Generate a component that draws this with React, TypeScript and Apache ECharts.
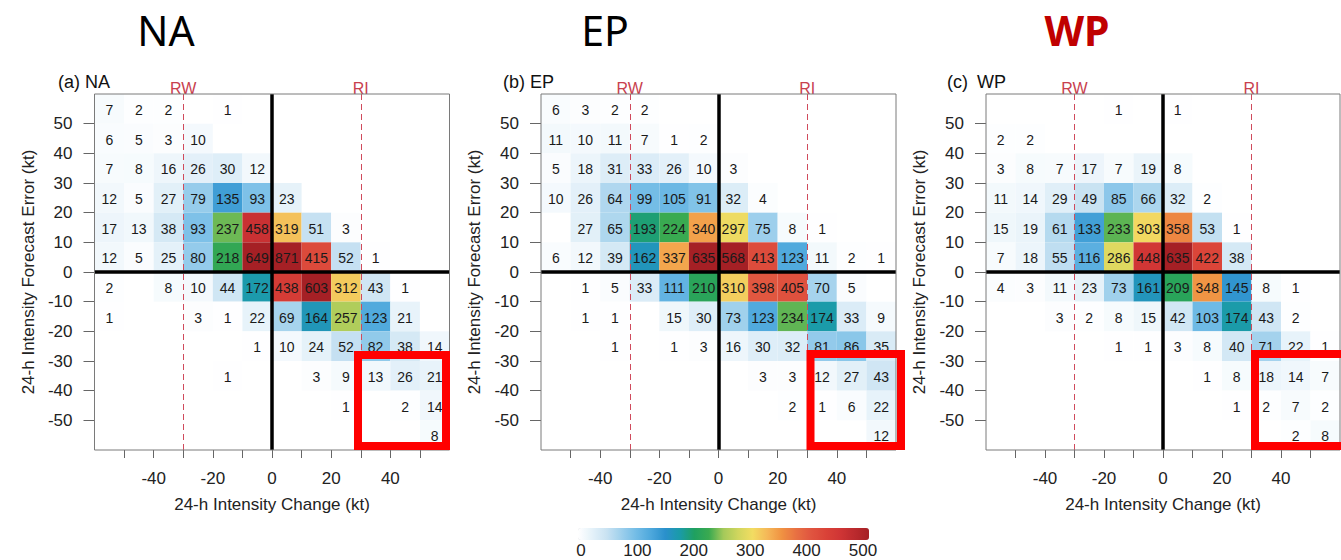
import React, { useEffect, useRef } from "react";
import * as echarts from "echarts";

// Bin centres (kt): intensity change (x) and forecast error (y), 10-kt bins
const binWidth = 10;
const changeBins = [-55, -45, -35, -25, -15, -5, 5, 15, 25, 35, 45, 55];
const errorBins = [55, 45, 35, 25, 15, 5, -5, -15, -25, -35, -45, -55];

// Tick labels
const xTickValues = [-50, -40, -30, -20, -10, 0, 10, 20, 30, 40, 50];
const xTickLabels = [-40, -20, 0, 20, 40];
const yTickValues = [-50, -40, -30, -20, -10, 0, 10, 20, 30, 40, 50];
const colorbarTicks = [0, 100, 200, 300, 400, 500];

// Rapid weakening / rapid intensification thresholds (kt)
const rwThreshold = -30;
const riThreshold = 30;

// Counts per bin, rows from +55 down to -55 kt error, columns from -55 to +55 kt change (0 = no cases)
const naCounts = [
  [7, 2, 2, 0, 1, 0, 0, 0, 0, 0, 0, 0],
  [6, 5, 3, 10, 0, 0, 0, 0, 0, 0, 0, 0],
  [7, 8, 16, 26, 30, 12, 0, 0, 0, 0, 0, 0],
  [12, 5, 27, 79, 135, 93, 23, 0, 0, 0, 0, 0],
  [17, 13, 38, 93, 237, 458, 319, 51, 3, 0, 0, 0],
  [12, 5, 25, 80, 218, 649, 871, 415, 52, 1, 0, 0],
  [2, 0, 8, 10, 44, 172, 438, 603, 312, 43, 1, 0],
  [1, 0, 0, 3, 1, 22, 69, 164, 257, 123, 21, 0],
  [0, 0, 0, 0, 0, 1, 10, 24, 52, 82, 38, 14],
  [0, 0, 0, 0, 1, 0, 0, 3, 9, 13, 26, 21],
  [0, 0, 0, 0, 0, 0, 0, 0, 1, 0, 2, 14],
  [0, 0, 0, 0, 0, 0, 0, 0, 0, 0, 0, 8],
];

const epCounts = [
  [6, 3, 2, 2, 0, 0, 0, 0, 0, 0, 0, 0],
  [11, 10, 11, 7, 1, 2, 0, 0, 0, 0, 0, 0],
  [5, 18, 31, 33, 26, 10, 3, 0, 0, 0, 0, 0],
  [10, 26, 64, 99, 105, 91, 32, 4, 0, 0, 0, 0],
  [0, 27, 65, 193, 224, 340, 297, 75, 8, 1, 0, 0],
  [6, 12, 39, 162, 337, 635, 568, 413, 123, 11, 2, 1],
  [0, 1, 5, 33, 111, 210, 310, 398, 405, 70, 5, 0],
  [0, 1, 1, 0, 15, 30, 73, 123, 234, 174, 33, 9],
  [0, 0, 1, 0, 1, 3, 16, 30, 32, 81, 86, 35],
  [0, 0, 0, 0, 0, 0, 0, 3, 3, 12, 27, 43],
  [0, 0, 0, 0, 0, 0, 0, 0, 2, 1, 6, 22],
  [0, 0, 0, 0, 0, 0, 0, 0, 0, 0, 0, 12],
];

const wpCounts = [
  [0, 0, 0, 0, 1, 0, 1, 0, 0, 0, 0, 0],
  [2, 2, 0, 0, 0, 0, 0, 0, 0, 0, 0, 0],
  [3, 8, 7, 17, 7, 19, 8, 0, 0, 0, 0, 0],
  [11, 14, 29, 49, 85, 66, 32, 2, 0, 0, 0, 0],
  [15, 19, 61, 133, 233, 303, 358, 53, 1, 0, 0, 0],
  [7, 18, 55, 116, 286, 448, 635, 422, 38, 0, 0, 0],
  [4, 3, 11, 23, 73, 161, 209, 348, 145, 8, 1, 0],
  [0, 0, 3, 2, 8, 15, 42, 103, 174, 43, 2, 0],
  [0, 0, 0, 0, 1, 1, 3, 8, 40, 71, 22, 1],
  [0, 0, 0, 0, 0, 0, 0, 1, 8, 18, 14, 7],
  [0, 0, 0, 0, 0, 0, 0, 0, 1, 2, 7, 2],
  [0, 0, 0, 0, 0, 0, 0, 0, 0, 0, 2, 8],
];

const basinNames = ["NA", "EP", "WP"];
const panelTags = ["(a) NA", "(b) EP", "(c)\u2002WP"];

// Colour scale for counts 0..500 (evenly spaced stops)
const countColors = [
  "#ffffff", "#e4f1f9", "#c8e2f2", "#9dcfec", "#72bce6", "#4ea8dc",
  "#2a90cc", "#1a9ba8", "#1fa060", "#3aaa50", "#a4c95a", "#d0d65e",
  "#f2dc62", "#f5b858", "#f09242", "#e87042", "#e05540", "#da4338",
  "#d03535", "#bb2a2e", "#a52025",
];

const FONT = "'Liberation Sans', Arial, sans-serif";
const TITLE_FONT = "'Noto Sans', 'Open Sans', sans-serif";
const THRESHOLD_COLOR = "#d04a5c";

function toCells(counts: number[][]) {
  const cells: number[][] = [];
  counts.forEach((row, r) => {
    row.forEach((v, c) => {
      if (v > 0) cells.push([changeBins[c], errorBins[r], v]);
    });
  });
  return cells;
}

const panels = [
  { left: 94.5, width: 355, titleX: 166, tagX: 58, box: [358, 355, 88, 91] },
  { left: 541, width: 355, titleX: 605, tagX: 503, box: [810.5, 354, 90.5, 92] },
  { left: 986, width: 354, titleX: 1077, tagX: 947, box: [1255, 354, 92, 92] },
];
const gridTop = 94;
const gridHeight = 356;

export default function App() {
  const ref = useRef<HTMLDivElement>(null);

  useEffect(() => {
    if (!ref.current) return;
    const chart = echarts.init(ref.current, null, { renderer: "svg" });
    const allCounts = [naCounts, epCounts, wpCounts];

    const grids: any[] = panels.map((p) => ({
      left: p.left,
      top: gridTop,
      width: p.width,
      height: gridHeight,
      show: true,
      borderColor: "#7a7a7a",
      borderWidth: 1,
      backgroundColor: "transparent",
      z: 10,
    }));
    grids.push({ left: 581, top: 528, width: 282, height: 12 });

    const xAxes: any[] = panels.map((_, i) => ({
      gridIndex: i,
      type: "value",
      min: -60,
      max: 60,
      interval: 10,
      axisLine: { show: false, onZero: false },
      axisTick: {
        show: true,
        length: 8,
        customValues: xTickValues,
        lineStyle: { color: "#666", width: 1 },
      },
      axisLabel: {
        customValues: xTickLabels,
        fontSize: 17,
        color: "#222",
        margin: 20,
        fontFamily: FONT,
      },
      splitLine: { show: false },
      name: "24-h Intensity Change (kt)",
      nameLocation: "middle",
      nameGap: 46,
      nameTextStyle: { fontSize: 17, color: "#222", fontFamily: FONT },
    }));
    xAxes.push({
      gridIndex: 3,
      type: "value",
      min: 0,
      max: 500,
      interval: 100,
      axisLine: { show: false },
      axisTick: { show: false },
      splitLine: { show: false },
      axisLabel: {
        customValues: colorbarTicks,
        fontSize: 17,
        color: "#222",
        margin: 2,
        fontFamily: FONT,
      },
    });

    const yAxes: any[] = panels.map((_, i) => ({
      gridIndex: i,
      type: "value",
      min: -60,
      max: 60,
      interval: 10,
      axisLine: { show: false, onZero: false },
      axisTick: {
        show: true,
        length: 11,
        customValues: yTickValues,
        lineStyle: { color: "#666", width: 1 },
      },
      axisLabel: {
        customValues: yTickValues,
        fontSize: 17,
        color: "#222",
        margin: 22,
        fontFamily: FONT,
      },
      splitLine: { show: false },
      name: "24-h Intensity Forecast Error (kt)",
      nameLocation: "middle",
      nameGap: 58,
      nameTextStyle: { fontSize: 17, color: "#222", fontFamily: FONT },
    }));
    yAxes.push({ gridIndex: 3, type: "value", show: false });

    const series: any[] = allCounts.map((counts, i) => ({
      type: "custom",
      name: basinNames[i],
      xAxisIndex: i,
      yAxisIndex: i,
      dimensions: ["change", "error", "count"],
      encode: { x: 0, y: 1 },
      data: toCells(counts),
      renderItem: (params: any, api: any) => {
        const x = api.value(0);
        const y = api.value(1);
        const v = api.value(2);
        const h = binWidth / 2;
        const tl = api.coord([x - h, y + h]);
        const br = api.coord([x + h, y - h]);
        return {
          type: "group",
          children: [
            {
              type: "rect",
              shape: {
                x: tl[0],
                y: tl[1],
                width: br[0] - tl[0],
                height: br[1] - tl[1],
              },
              style: { fill: api.visual("color") },
            },
            {
              type: "text",
              style: {
                text: String(v),
                x: (tl[0] + br[0]) / 2,
                y: (tl[1] + br[1]) / 2 + 1,
                align: "center",
                verticalAlign: "middle",
                textAlign: "center",
                textVerticalAlign: "middle",
                fontSize: 14,
                fontFamily: FONT,
                fill: "#1a1a1a",
              },
            },
          ],
        };
      },
    }));

    // Zero lines (solid black) and RW / RI thresholds (dashed red), separate carrier series
    panels.forEach((_, i) => {
      series.push({
        type: "line",
        name: "zero" + i,
        xAxisIndex: i,
        yAxisIndex: i,
        data: [],
        z: 6,
        silent: true,
        color: "#000000",
        markLine: {
          silent: true,
          symbol: "none",
          z: 6,
          lineStyle: { color: "#000000", width: 3.5, type: "solid" },
          label: { show: false },
          data: [{ xAxis: 0 }, { yAxis: 0 }],
        },
      });
      series.push({
        type: "line",
        name: "threshold" + i,
        xAxisIndex: i,
        yAxisIndex: i,
        data: [],
        z: 5,
        silent: true,
        color: THRESHOLD_COLOR,
        markLine: {
          silent: true,
          symbol: "none",
          z: 5,
          lineStyle: { color: THRESHOLD_COLOR, width: 1, type: [6, 4] },
          label: {
            show: true,
            position: "end",
            distance: -2,
            color: "#c8404e",
            fontSize: 16,
            fontFamily: FONT,
          },
          data: [
            { xAxis: rwThreshold, label: { formatter: "RW" } },
            { xAxis: riThreshold, label: { formatter: "RI" } },
          ],
        },
      });
    });

    const graphics: any[] = [];
    panels.forEach((p, i) => {
      graphics.push({
        type: "text",
        x: p.titleX,
        y: 30,
        z: 100,
        style: {
          text: basinNames[i],
          align: "center",
          verticalAlign: "middle",
          textAlign: "center",
          textVerticalAlign: "middle",
          fontSize: 41,
          fontWeight: i === 2 ? "bold" : "normal",
          fontFamily: TITLE_FONT,
          fill: i === 2 ? "#c00000" : "#000",
        },
      });
      graphics.push({
        type: "text",
        x: p.tagX,
        y: 82,
        z: 100,
        style: {
          text: panelTags[i],
          align: "left",
          verticalAlign: "middle",
          textAlign: "left",
          textVerticalAlign: "middle",
          fontSize: 18,
          fontFamily: FONT,
          fill: "#111",
        },
      });
      graphics.push({
        type: "rect",
        z: 100,
        shape: { x: p.box[0], y: p.box[1], width: p.box[2], height: p.box[3] },
        style: { fill: "none", stroke: "#ff0000", lineWidth: 8 },
      });
    });

    chart.setOption({
      animation: false,
      backgroundColor: "#ffffff",
      textStyle: { fontFamily: FONT },
      grid: grids,
      xAxis: xAxes,
      yAxis: yAxes,
      visualMap: {
        type: "continuous",
        min: 0,
        max: 500,
        orient: "horizontal",
        left: 578,
        top: 528,
        padding: 0,
        itemWidth: 12,
        itemHeight: 291,
        calculable: false,
        showLabel: false,
        text: null,
        seriesIndex: [0, 1, 2],
        dimension: 2,
        inRange: { color: countColors },
      },
      series,
      graphic: graphics,
    });

    return () => chart.dispose();
  }, []);

  return (
    <div
      ref={ref}
      style={{
        position: "absolute",
        left: 0,
        top: 0,
        width: 1341,
        height: 560,
        background: "#fff",
      }}
    />
  );
}
